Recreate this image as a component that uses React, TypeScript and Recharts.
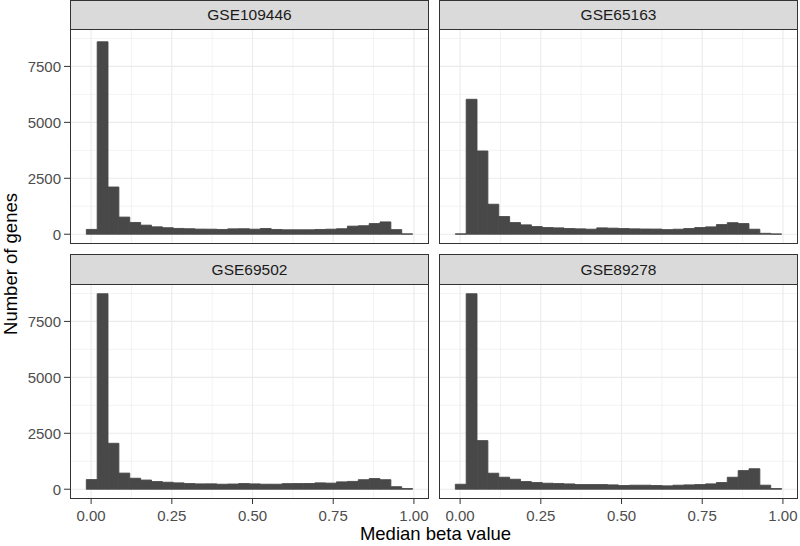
import { BarChart, Bar, XAxis, YAxis, CartesianGrid } from 'recharts'

// histogram bin centres (median beta value), 30 bins
const binCenters = [
  0.002, 0.0357, 0.0694, 0.1031, 0.1368, 0.1705, 0.2042, 0.2379, 0.2716, 0.3053,
  0.339, 0.3727, 0.4064, 0.4401, 0.4738, 0.5075, 0.5412, 0.5749, 0.6086, 0.6423,
  0.676, 0.7097, 0.7434, 0.7771, 0.8108, 0.8445, 0.8782, 0.9119, 0.9456, 0.9793,
]

// gene counts per bin
const gse109446 = [
  215, 8600, 2110, 765, 525, 405, 330, 290, 258, 245, 228, 225, 212, 240, 245,
  225, 255, 212, 198, 198, 198, 212, 225, 245, 360, 380, 476, 550, 205, 15,
]
const gse65163 = [
  15, 6030, 3720, 1340, 790, 520, 418, 342, 298, 283, 253, 240, 224, 283, 270,
  253, 240, 232, 230, 205, 223, 253, 298, 328, 431, 515, 476, 223, 40, 12,
]
const gse69502 = [
  431, 8735, 2053, 720, 491, 410, 342, 312, 283, 253, 238, 240, 223, 232, 253,
  238, 223, 223, 250, 253, 255, 283, 272, 328, 348, 425, 476, 425, 112, 30,
]
const gse89278 = [
  222, 8735, 2172, 715, 536, 446, 342, 298, 268, 253, 238, 208, 208, 208, 193,
  165, 179, 179, 165, 150, 179, 193, 208, 238, 298, 535, 833, 915, 180, 30,
]

const panelNames = ['GSE109446', 'GSE65163', 'GSE69502', 'GSE89278']
const panelCounts = [gse109446, gse65163, gse69502, gse89278]

const xTicks = [0, 0.25, 0.5, 0.75, 1]
const xMinor = [0.125, 0.375, 0.625, 0.875]
const yTicks = [0, 2500, 5000, 7500]
const yMinor = [1250, 3750, 6250, 8750]

const X_DOMAIN: [number, number] = [-0.0654, 1.0467]
const Y_DOMAIN: [number, number] = [-437, 9172]

const FONT = '"Liberation Sans", Arial, Helvetica, sans-serif'
const PANEL_W = 359
const PANEL_H = 215
const Y_AXIS_W = 62
const X_AXIS_H = 34
const COL_X = [70, 439]
const ROW_Y = [29, 284]
const STRIP_TOP = [0, 254]

interface PanelProps {
  name: string
  counts: number[]
  col: number
  row: number
}

function Panel({ name, counts, col, row }: PanelProps) {
  const showY = col === 0
  const showX = row === 1
  const data = binCenters.map((x, i) => ({ x, count: counts[i] }))
  const left = COL_X[col]
  const top = ROW_Y[row]
  const yw = showY ? Y_AXIS_W : 0

  return (
    <>
      <div style={{ position: 'absolute', left: left - yw, top }}>
        <BarChart
          width={PANEL_W + yw}
          height={PANEL_H + (showX ? X_AXIS_H : 0)}
          data={data}
          margin={{ top: 0, right: 0, bottom: 0, left: 0 }}
          barCategoryGap={0}
          barGap={0}
        >
          <CartesianGrid
            horizontalValues={yMinor}
            verticalValues={xMinor}
            stroke="#EBEBEB"
            strokeWidth={0.6}
          />
          <CartesianGrid
            horizontalValues={yTicks}
            verticalValues={xTicks}
            stroke="#EBEBEB"
            strokeWidth={1.1}
          />
          <XAxis
            type="number"
            dataKey="x"
            domain={X_DOMAIN}
            ticks={xTicks}
            interval={0}
            allowDataOverflow
            hide={!showX}
            height={X_AXIS_H}
            tickFormatter={(v: number) => v.toFixed(2)}
            tick={{ fontSize: 15, fill: '#4D4D4D', fontFamily: FONT }}
            tickLine={{ stroke: '#333333' }}
            axisLine={false}
            tickSize={5}
            tickMargin={6}
          />
          <YAxis
            type="number"
            domain={Y_DOMAIN}
            ticks={yTicks}
            interval={0}
            allowDataOverflow
            hide={!showY}
            width={Y_AXIS_W}
            tick={{ fontSize: 15, fill: '#4D4D4D', fontFamily: FONT }}
            tickLine={{ stroke: '#333333' }}
            axisLine={false}
            tickSize={6}
            tickMargin={3}
          />
          <Bar
            dataKey="count"
            fill="#484848"
            stroke="#484848"
            strokeWidth={0.9}
            barSize={10.8}
            isAnimationActive={false}
          />
        </BarChart>
      </div>
      <div
        style={{
          position: 'absolute',
          left,
          top,
          width: PANEL_W,
          height: PANEL_H,
          border: '1px solid #333333',
          boxSizing: 'border-box',
          pointerEvents: 'none',
        }}
      />
      <div
        style={{
          position: 'absolute',
          left,
          top: STRIP_TOP[row],
          width: PANEL_W,
          height: top - STRIP_TOP[row] + 1,
          background: '#DADADA',
          border: '1px solid #333333',
          boxSizing: 'border-box',
          display: 'flex',
          alignItems: 'center',
          justifyContent: 'center',
          fontSize: 15.5,
          color: '#1A1A1A',
        }}
      >
        {name}
      </div>
    </>
  )
}

export default function App() {
  return (
    <div
      style={{
        position: 'absolute',
        left: 0,
        top: 0,
        width: 800,
        height: 546,
        background: '#fff',
        fontFamily: FONT,
        overflow: 'hidden',
      }}
    >
      {panelNames.map((name, i) => (
        <Panel key={name} name={name} counts={panelCounts[i]} col={i % 2} row={Math.floor(i / 2)} />
      ))}
      <svg
        width={800}
        height={546}
        style={{ position: 'absolute', left: 0, top: 0, pointerEvents: 'none' }}
      >
        <text x={435.5} y={539.5} textAnchor="middle" fontSize={18.5} fill="#000" fontFamily={FONT}>
          Median beta value
        </text>
        <text
          transform="translate(16.5,264) rotate(-90)"
          textAnchor="middle"
          fontSize={18.5}
          fill="#000"
          fontFamily={FONT}
        >
          Number of genes
        </text>
      </svg>
    </div>
  )
}
